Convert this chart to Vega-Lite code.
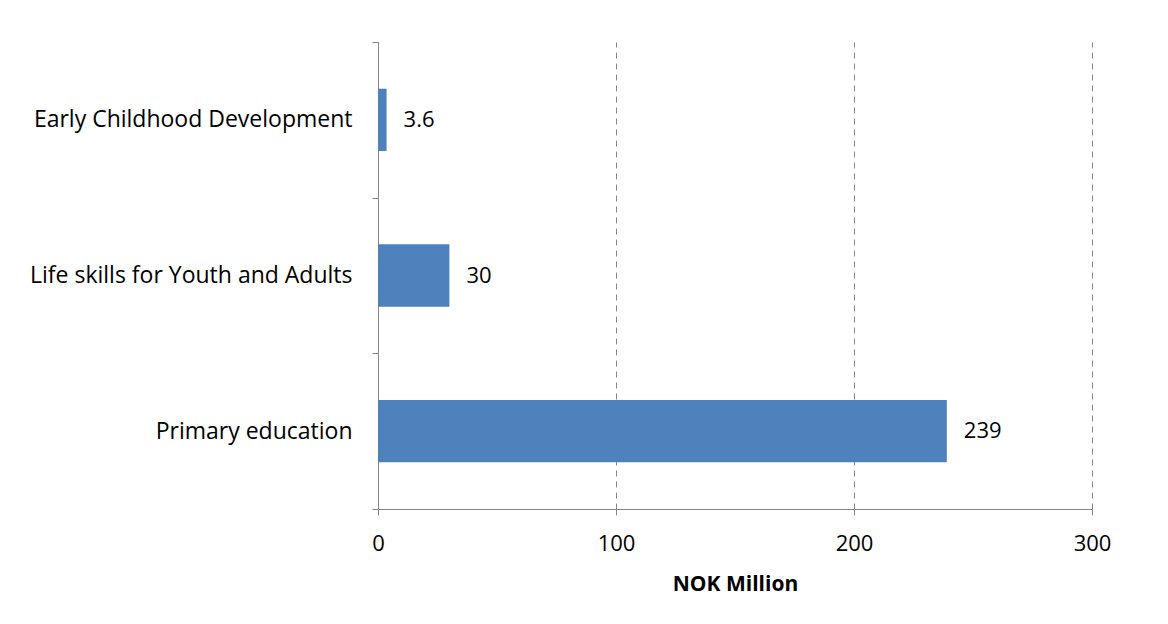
{
  "$schema": "https://vega.github.io/schema/vega-lite/v6.json",
  "width": 714,
  "height": 467,
  "autosize": {"type": "none"},
  "padding": {"left": 378, "top": 42, "right": 76, "bottom": 115},
  "background": "white",
  "config": {
    "view": {"stroke": null},
    "font": "Open Sans"
  },
  "data": {
    "values": [
      {"category": "Early Childhood Development", "value": 3.6, "label": "3.6"},
      {"category": "Life skills for Youth and Adults", "value": 30, "label": "30"},
      {"category": "Primary education", "value": 239, "label": "239"}
    ]
  },
  "encoding": {
    "y": {
      "field": "category",
      "type": "nominal",
      "sort": null,
      "scale": {"paddingInner": 0, "paddingOuter": 0},
      "axis": {
        "title": null,
        "tickBand": "extent",
        "domainColor": "#868686",
        "tickColor": "#868686",
        "tickSize": 6,
        "labelPadding": 20,
        "labelFontSize": 23,
        "labelColor": "#000000",
        "labelFont": "Open Sans",
        "labelLimit": 400,
        "grid": false
      }
    },
    "x": {
      "field": "value",
      "type": "quantitative",
      "scale": {"domain": [0, 300], "nice": false},
      "axis": {
        "values": [0, 100, 200, 300],
        "title": "NOK Million",
        "titleFontSize": 21,
        "titleFontWeight": "bold",
        "titleColor": "#000000",
        "titlePadding": 19,
        "titleFont": "Open Sans",
        "domainColor": "#868686",
        "tickColor": "#868686",
        "tickSize": 6,
        "labelFontSize": 22,
        "labelColor": "#000000",
        "labelPadding": 18,
        "labelFlush": false,
        "labelFont": "Open Sans",
        "grid": true,
        "gridColor": "#868686",
        "gridDash": [6, 5],
        "gridWidth": 1
      }
    }
  },
  "layer": [
    {"mark": {"type": "bar", "color": "#4F81BD", "height": {"band": 0.4}}},
    {
      "mark": {"type": "text", "align": "left", "dx": 17, "fontSize": 22, "color": "#000000", "font": "Open Sans"},
      "encoding": {"text": {"field": "label"}}
    }
  ]
}
